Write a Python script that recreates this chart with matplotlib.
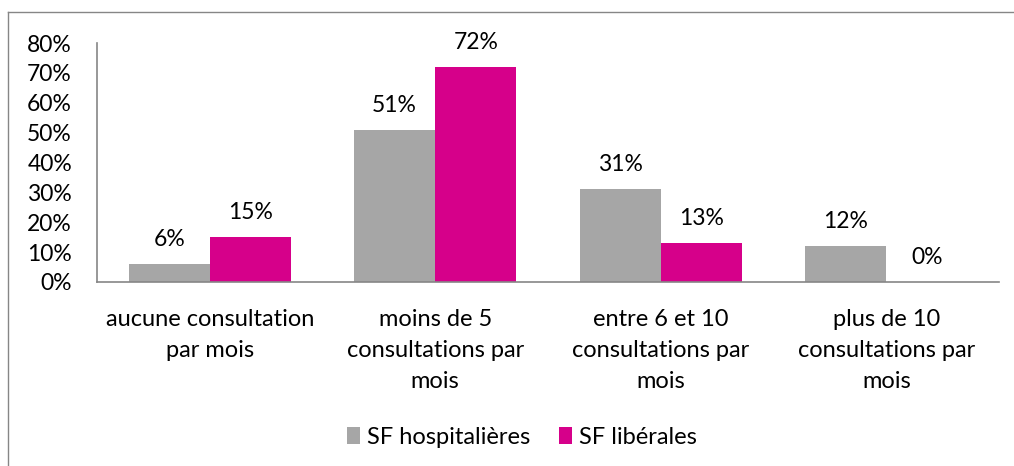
import matplotlib
matplotlib.use("Agg")
import matplotlib.pyplot as plt
import numpy as np
from matplotlib.lines import Line2D

plt.rcParams['font.family'] = ['Lato', 'DejaVu Sans']

categories = ["aucune consultation\npar mois", "moins de 5\nconsultations par\nmois",
              "entre 6 et 10\nconsultations par\nmois", "plus de 10\nconsultations par\nmois"]
hosp = [6, 51, 31, 12]
lib = [15, 72, 13, 0]
series_names = ["SF hospitalières", "SF libérales"]
colors = ["#A6A6A6", "#D6008A"]
yticks = [0, 10, 20, 30, 40, 50, 60, 70, 80]

fig = plt.figure(figsize=(10.14, 4.66), dpi=100)
ax = fig.add_axes([97/1014, 1-282/466, (999-97)/1014, (282-43)/466])

x = np.arange(len(categories))
w = 0.36
b1 = ax.bar(x - w/2, hosp, w, color=colors[0], label=series_names[0])
b2 = ax.bar(x + w/2, lib, w, color=colors[1], label=series_names[1])
for bars, vals in ((b1, hosp), (b2, lib)):
    for r, v in zip(bars, vals):
        ax.annotate(f"{v}%", (r.get_x() + r.get_width()/2, v), xytext=(0, 10),
                    textcoords="offset points", ha="center", va="bottom", fontsize=16.5)

ax.set_xlim(-0.5, 3.5)
ax.set_ylim(0, 80)
ax.set_yticks(yticks)
ax.set_yticklabels([f"{t}%" for t in yticks], fontsize=16.5)
ax.set_xticks(x)
ax.set_xticklabels(categories, fontsize=17, linespacing=1.58)
ax.tick_params(axis='x', length=0, pad=19.5)
ax.tick_params(axis='y', length=0, pad=18)
for s in ["top", "right"]:
    ax.spines[s].set_visible(False)
for s in ["left", "bottom"]:
    ax.spines[s].set_color("#868686")
    ax.spines[s].set_linewidth(1.2)

fig.legend(handles=[b1, b2], loc="center", bbox_to_anchor=(0.515, 1-437/466), ncol=2,
           frameon=False, fontsize=17, handlelength=0.55, handleheight=0.75,
           handletextpad=0.3, columnspacing=1.2)

fig.add_artist(Line2D([8/1014, 8/1014], [0, 1-12/466], transform=fig.transFigure, color="#868686", lw=1))
fig.add_artist(Line2D([8/1014, 1], [1-12/466, 1-12/466], transform=fig.transFigure, color="#868686", lw=1))

fig.savefig("out.png", dpi=100)
